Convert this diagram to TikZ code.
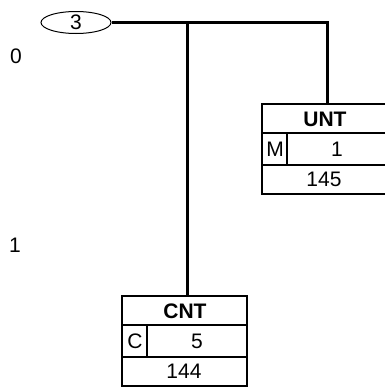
\documentclass[tikz,border=0pt]{standalone}
\usepackage{fontspec}
\setmainfont{Liberation Sans}
\usetikzlibrary{shapes.geometric}
\begin{document}
\begin{tikzpicture}[x=1pt,y=-1pt,
  wire/.style={line width=3pt},
  rule/.style={line width=2pt},
  boxframe/.style={draw,line width=2pt,rectangle,minimum width=125pt,minimum height=90pt,inner sep=0pt},
  cell/.style={inner sep=0pt,font=\fontsize{21}{24}\selectfont},
  titlecell/.style={cell,font=\fontsize{21}{24}\selectfont\bfseries},
  level/.style={inner sep=0pt,font=\fontsize{21}{24}\selectfont},
  oval/.style={draw,ellipse,line width=1pt,minimum width=70pt,minimum height=22pt,inner sep=0pt,font=\fontsize{21}{24}\selectfont}]
\useasboundingbox (0,0) rectangle (385,388);
% level labels
\node[level] (l0) at (16,56) {0};
\node[level] (l1) at (15,245) {1};
% root oval
\node[oval] (root) at (76,22.5) {3};
\coordinate (j1) at (187,22.5);
\coordinate (j2) at (327,22.5);
% UNT box
\node[boxframe] (unt) at (324.5,149) {};
\node[titlecell] (untt) at (325,119.5) {UNT};
\node[cell] (untm) at (275,149.5) {M};
\node[cell] (untv) at (337,149.5) {1};
\node[cell] (untn) at (324,179) {145};
\draw[rule] ([yshift=-30pt]unt.north west) -- ([yshift=-30pt]unt.north east);
\draw[rule] ([yshift=30pt]unt.south west) -- ([yshift=30pt]unt.south east);
\draw[rule] ([xshift=26pt,yshift=-30pt]unt.north west) -- ([xshift=26pt,yshift=30pt]unt.south west);
% CNT box
\node[boxframe] (cnt) at (184.5,341) {};
\node[titlecell] (cntt) at (185,311.5) {CNT};
\node[cell] (cntc) at (135,341.5) {C};
\node[cell] (cntv) at (197,341.5) {5};
\node[cell] (cntn) at (184,371) {144};
\draw[rule] ([yshift=-30pt]cnt.north west) -- ([yshift=-30pt]cnt.north east);
\draw[rule] ([yshift=30pt]cnt.south west) -- ([yshift=30pt]cnt.south east);
\draw[rule] ([xshift=26pt,yshift=-30pt]cnt.north west) -- ([xshift=26pt,yshift=30pt]cnt.south west);
% connectors
\draw[wire] (root.east) -- (j2) -- (j2 |- unt.north);
\draw[wire] (j1) -- (j1 |- cnt.north);
\end{tikzpicture}
\end{document}
